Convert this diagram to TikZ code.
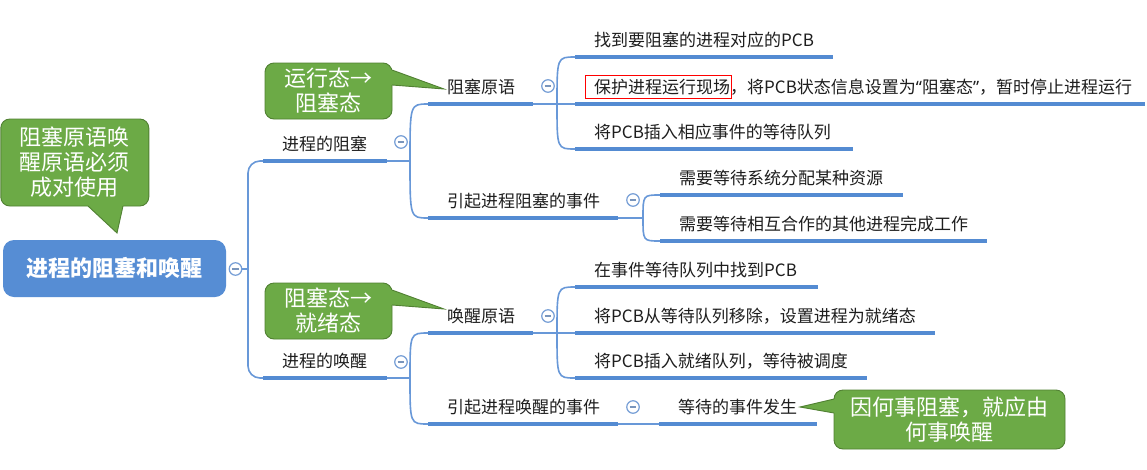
\documentclass[tikz,border=0pt]{standalone}
\usepackage{fontspec}
\setmainfont{Noto Sans CJK SC}
\newfontfamily\latinq{Noto Sans}
\definecolor{mblue}{RGB}{84,139,210}
\definecolor{cblue}{RGB}{104,152,216}
\definecolor{rootblue}{RGB}{86,141,212}
\definecolor{circ}{RGB}{118,158,214}
\definecolor{cgreen}{RGB}{108,170,70}
\definecolor{cgreenb}{RGB}{80,128,50}
\definecolor{txt}{RGB}{30,30,30}
\begin{document}
\begin{tikzpicture}[x=1pt,y=-1pt,
  topic/.style={inner xsep=0pt, inner ysep=0pt, anchor=south west, minimum height=34pt,
    text width=#1, align=left, font=\fontsize{17}{20}\selectfont, text=txt,
    execute at begin node={\hspace*{19pt}}},
  uline/.style={draw=mblue, line width=3.2pt},
  conn/.style={draw=cblue, line width=1.6pt},
  collapse/.style={circle, draw=circ, line width=1.2pt, fill=white, minimum size=12.5pt, inner sep=0pt,
    path picture={\draw[circ!70!gray, line width=1.3pt] ([xshift=-3.3pt]path picture bounding box.center) -- ([xshift=3.3pt]path picture bounding box.center);}},
  rootbox/.style={fill=rootblue, rounded corners=11pt, text=white, inner sep=0pt,
    font=\fontsize{22}{26}\selectfont\bfseries},
  callbox/.style={fill=cgreen, draw=cgreenb, line width=0.9pt, rounded corners=9pt, inner sep=0pt,
    text=white, align=center, font=\fontsize{22}{25}\selectfont},
  pfill/.style={fill=cgreen},
  pdraw/.style={draw=cgreenb, line width=0.9pt, line join=miter},
  redbox/.style={draw=red, line width=1pt, inner sep=0pt}
]
\fill[white] (0,0) rectangle (1147,469);
\useasboundingbox (0,0) rectangle (1147,469);

% ---- root
\node[rootbox, minimum width=223pt, minimum height=57pt] (root) at (114.5,268.5) {进程的阻塞和唤醒};
\node[collapse] (rc) at (235.5,269) {};

% ---- level 1
\node[topic=124pt] (b1) at (263,161) {进程的阻塞};
\node[topic=124pt] (b2) at (263,378) {进程的唤醒};
\node[collapse] (b1c) at (401,142) {};
\node[collapse] (b2c) at (401,362) {};

% ---- level 2
\node[topic=105pt] (a1) at (428,104) {阻塞原语};
\node[topic=190pt] (a2) at (428,218) {引起进程阻塞的事件};
\node[topic=105pt] (a3) at (428,333) {唤醒原语};
\node[topic=190pt] (a4) at (428,424) {引起进程唤醒的事件};
\node[collapse] (a1c) at (548,86) {};
\node[collapse] (a2c) at (633,200) {};
\node[collapse] (a3c) at (548,316) {};
\node[collapse] (a4c) at (633,407) {};

% ---- leaves
\node[topic=258pt] (t1) at (575,57) {找到要阻塞的进程对应的PCB};
\node[topic=570pt] (t2) at (575,104) {保护进程运行现场，将PCB状态信息设置为{\latinq “}阻塞态{\latinq ”}，暂时停止进程运行};
\node[topic=278pt] (t3) at (575,149) {将PCB插入相应事件的等待队列};
\node[topic=243pt] (e1) at (660,195) {需要等待系统分配某种资源};
\node[topic=327pt] (e2) at (660,241) {需要等待相互合作的其他进程完成工作};
\node[topic=243pt] (w1) at (575,287) {在事件等待队列中找到PCB};
\node[topic=360pt] (w2) at (575,333) {将PCB从等待队列移除，设置进程为就绪态};
\node[topic=292pt] (w3) at (575,378) {将PCB插入就绪队列，等待被调度};
\node[topic=158pt] (f1) at (659,424) {等待的事件发生};

\node[redbox, minimum width=146pt, minimum height=23pt] (hl) at (658,86.5) {};

% ---- junctions
\coordinate (jr) at (248,269);
\coordinate (j1) at (410,161);
\coordinate (j2) at (410,378);
\coordinate (ja1) at (557,104);
\coordinate (ja2) at (643,218);
\coordinate (ja3) at (557,333);

% ---- connectors
\draw[conn] (rc.east) -- (jr);
\draw[conn, rounded corners=12pt] (b1.south west) -| (jr) |- (b2.south west);

\draw[conn] (b1.south east) -- (j1);
\draw[conn] (a1.south west) .. controls (a1.south west -| j1) .. (j1)
            .. controls (a2.south west -| j1) .. (a2.south west);
\draw[conn] (b2.south east) -- (j2);
\draw[conn] (a3.south west) .. controls (a3.south west -| j2) .. (j2)
            .. controls (a4.south west -| j2) .. (a4.south west);

\draw[conn] (a1.south east) -- (t2.south west);
\draw[conn] (t1.south west) .. controls (t1.south west -| ja1) .. (ja1)
            .. controls (t3.south west -| ja1) .. (t3.south west);
\draw[conn] (a2.south east) -- (ja2);
\draw[conn] (e1.south west) .. controls (e1.south west -| ja2) .. (ja2)
            .. controls (e2.south west -| ja2) .. (e2.south west);
\draw[conn] (a3.south east) -- (w2.south west);
\draw[conn] (w1.south west) .. controls (w1.south west -| ja3) .. (ja3)
            .. controls (w3.south west -| ja3) .. (w3.south west);
\draw[conn] (a4.south east) -- (f1.south west);

% ---- underlines
\foreach \n in {b1,b2,a1,a2,a3,a4,t1,t2,t3,e1,e2,w1,w2,w3,f1}
  \draw[uline] (\n.south west) -- (\n.south east);

% ---- callouts
\node[callbox, minimum width=148pt, minimum height=87pt] (k1) at (74.8,162.5) {阻塞原语唤\\醒原语必须\\成对使用};
\fill[pfill] (88,203) -- (88,206) -- (117,233) -- (123,206) -- (123,203) -- cycle;
\draw[pdraw] (88,206) -- (117,233) -- (123,206);

\node[callbox, minimum width=127pt, minimum height=56pt] (k2) at (328.5,91) {运行态→\\阻塞态};
\fill[pfill] (389,70) -- (392,70) -- (444,89) -- (392,85) -- (389,85) -- cycle;
\draw[pdraw] (392,70) -- (444,89) -- (392,85);

\node[callbox, minimum width=127pt, minimum height=56pt] (k3) at (328.5,311) {阻塞态→\\就绪态};
\fill[pfill] (389,290) -- (392,290) -- (444,309) -- (392,305) -- (389,305) -- cycle;
\draw[pdraw] (392,290) -- (444,309) -- (392,305);

\node[callbox, minimum width=231pt, minimum height=59pt] (k4) at (949.5,419.5) {因何事阻塞，就应由\\何事唤醒};
\fill[pfill] (837,399) -- (834,399) -- (800,407) -- (834,413) -- (837,413) -- cycle;
\draw[pdraw] (834,399) -- (800,407) -- (834,413);
\end{tikzpicture}
\end{document}
